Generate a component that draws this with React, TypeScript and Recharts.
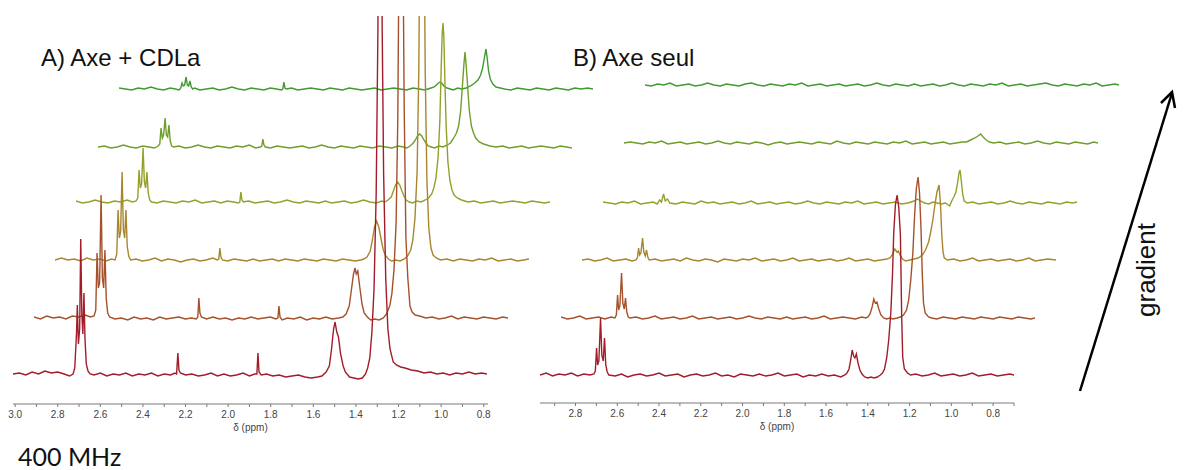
import React from 'react';
import { LineChart, Line, XAxis, YAxis } from 'recharts';

type Pt = [number, number]; // [δ ppm, intensity]

// ---- A) Axe + CDLa : one spectrum per gradient step, bottom (weak) to top (strong)
const axeCdla1: Pt[] = [
  [3.01, 0], [2.98, 1], [2.95, -1], [2.92, 2], [2.89, 0], [2.86, 3], [2.83, 1], [2.8, 2], [2.77, 0], [2.745, -2], [2.728, 0],
  [2.72, 6], [2.712, 40], [2.708, 69], [2.703, 30], [2.697, 45], [2.692, 135], [2.687, 60], [2.682, 40], [2.677, 81], [2.672, 35], [2.666, 10], [2.658, 3], [2.648, 0],
  [2.63, -1], [2.6, 1], [2.57, -2], [2.54, 0], [2.51, -1], [2.48, 1], [2.45, -2], [2.42, 0], [2.39, -1], [2.36, 1], [2.33, -2], [2.3, 0], [2.27, -1], [2.25, 1], [2.242, 0], [2.236, 21], [2.231, 4], [2.224, 1],
  [2.2, -1], [2.17, 0], [2.14, -2], [2.11, -1], [2.08, 1], [2.05, -2], [2.02, 0], [1.99, -2], [1.96, -1], [1.93, 1], [1.9, -2], [1.875, 0], [1.865, 0], [1.86, 21], [1.855, 2], [1.845, -1],
  [1.82, 0], [1.79, -2], [1.76, -1], [1.73, -3], [1.7, -2], [1.67, -1], [1.64, -3], [1.61, -4], [1.58, -3], [1.56, -2],
  [1.54, 2], [1.525, 8], [1.515, 24], [1.505, 45], [1.498, 52], [1.49, 42], [1.482, 37], [1.472, 20], [1.46, 8], [1.45, 2], [1.43, -3], [1.41, -4], [1.39, -5], [1.37, -4], [1.355, 0], [1.345, 6], [1.335, 16],
  [1.325, 42], [1.315, 85], [1.305, 180], [1.297, 340], [1.292, 520], [1.287, 680], [1.282, 530], [1.277, 350], [1.27, 200], [1.26, 95], [1.25, 45], [1.24, 25], [1.225, 12], [1.21, 9], [1.19, 7], [1.17, 6],
  [1.14, 4], [1.11, 3], [1.08, 1], [1.05, 2], [1.02, 0], [0.99, 1], [0.96, -1], [0.93, 1], [0.9, 0], [0.87, 2], [0.84, 0], [0.81, 1], [0.785, 0],
];
const axeCdla2: Pt[] = [
  [3.01, 1], [2.98, -1], [2.95, 2], [2.92, 0], [2.89, 1], [2.86, -1], [2.83, 2], [2.8, 1], [2.77, 3], [2.745, 1], [2.728, 2],
  [2.72, 8], [2.714, 65], [2.708, 30], [2.702, 35], [2.695, 123], [2.689, 40], [2.683, 30], [2.677, 68], [2.671, 20], [2.664, 5], [2.655, 1],
  [2.63, -1], [2.6, 0], [2.57, -2], [2.54, 1], [2.51, -1], [2.48, 0], [2.45, -2], [2.42, 1], [2.39, -1], [2.36, 0], [2.33, 1], [2.3, -1], [2.27, 0], [2.248, -1], [2.241, 1], [2.236, 20], [2.231, 5], [2.224, 1],
  [2.2, -1], [2.17, 1], [2.14, -1], [2.11, 0], [2.08, -2], [2.05, 0], [2.02, -1], [1.99, 1], [1.96, -1], [1.93, 0], [1.9, 1], [1.875, -1], [1.865, 0], [1.86, 12], [1.855, 1], [1.845, -2],
  [1.82, 0], [1.79, -1], [1.76, 1], [1.73, -2], [1.7, 0], [1.67, -1], [1.64, 1], [1.61, -1], [1.58, 0], [1.56, 1],
  [1.545, 4], [1.53, 12], [1.52, 28], [1.51, 44], [1.503, 50], [1.497, 44], [1.49, 47], [1.48, 30], [1.47, 14], [1.46, 5], [1.445, 1], [1.43, -2], [1.41, -1], [1.39, -2], [1.37, 0], [1.355, 4], [1.34, 12], [1.33, 24],
  [1.32, 48], [1.31, 95], [1.302, 200], [1.296, 380], [1.291, 560], [1.287, 700], [1.283, 560], [1.278, 380], [1.272, 210], [1.264, 80], [1.255, 40], [1.245, 12], [1.235, 6], [1.22, 3], [1.2, 2], [1.17, 0],
  [1.14, 1], [1.11, -1], [1.08, 0], [1.05, 2], [1.02, -1], [0.99, 1], [0.96, 0], [0.93, -1], [0.9, 1], [0.87, 0], [0.84, -1], [0.81, 1], [0.785, 0],
];
const axeCdla3: Pt[] = [
  [3.01, 0], [2.98, 2], [2.95, 0], [2.92, 1], [2.89, -1], [2.86, 2], [2.83, 0], [2.8, 1], [2.77, -1], [2.745, 1], [2.728, 0],
  [2.72, 6], [2.714, 50], [2.708, 22], [2.702, 28], [2.695, 88], [2.689, 30], [2.683, 22], [2.677, 50], [2.671, 14], [2.664, 4], [2.655, 0],
  [2.63, 1], [2.6, -1], [2.57, 0], [2.54, 2], [2.51, -1], [2.48, 1], [2.45, 0], [2.42, -2], [2.39, 0], [2.36, 1], [2.33, -1], [2.3, 0], [2.27, 2], [2.248, 0], [2.241, 1], [2.236, 12], [2.231, 3], [2.224, 0],
  [2.2, -1], [2.17, 1], [2.14, 0], [2.11, -1], [2.08, 1], [2.05, -1], [2.02, 0], [1.99, 1], [1.96, -1], [1.93, 1], [1.9, 0], [1.87, -1], [1.84, 1], [1.81, 0], [1.78, -1], [1.75, 1], [1.72, 0], [1.69, -1], [1.66, 1], [1.63, 0], [1.6, -1], [1.575, 0], [1.56, 1],
  [1.545, 3], [1.53, 9], [1.52, 20], [1.51, 33], [1.5, 39], [1.49, 33], [1.48, 22], [1.47, 11], [1.46, 5], [1.445, 1], [1.43, -1], [1.41, 0], [1.39, -1], [1.37, 1], [1.355, 4], [1.34, 10], [1.33, 20],
  [1.32, 42], [1.31, 88], [1.302, 190], [1.296, 360], [1.291, 540], [1.287, 680], [1.283, 540], [1.278, 360], [1.272, 190], [1.264, 80], [1.255, 32], [1.245, 12], [1.235, 5], [1.22, 2], [1.2, 0], [1.17, 1],
  [1.14, -1], [1.11, 1], [1.08, 0], [1.05, -1], [1.02, 1], [0.99, 0], [0.96, 2], [0.93, -1], [0.9, 0], [0.87, 1], [0.84, -1], [0.81, 0], [0.785, 1],
];
const axeCdla4: Pt[] = [
  [3.01, 1], [2.98, -1], [2.95, 0], [2.92, 2], [2.89, 0], [2.86, -1], [2.83, 1], [2.8, 0], [2.77, 2], [2.745, 0], [2.728, 1],
  [2.72, 4], [2.714, 32], [2.708, 14], [2.702, 18], [2.695, 54], [2.689, 20], [2.683, 14], [2.677, 30], [2.671, 9], [2.664, 2], [2.655, 0],
  [2.63, -1], [2.6, 1], [2.57, 0], [2.54, -1], [2.51, 1], [2.48, 0], [2.45, 2], [2.42, -1], [2.39, 0], [2.36, 1], [2.33, -1], [2.3, 1], [2.27, 0], [2.248, -1], [2.241, 0], [2.236, 10], [2.231, 2], [2.224, 0],
  [2.2, 1], [2.17, -1], [2.14, 0], [2.11, 1], [2.08, -1], [2.05, 0], [2.02, 2], [1.99, 0], [1.96, -1], [1.93, 1], [1.9, 0], [1.87, -1], [1.84, 1], [1.81, -1], [1.78, 0], [1.75, 1], [1.72, -1], [1.69, 0], [1.66, 2], [1.63, 0], [1.6, -1], [1.575, 1], [1.56, 0],
  [1.545, 2], [1.53, 5], [1.52, 11], [1.51, 17], [1.5, 20], [1.49, 17], [1.48, 11], [1.47, 6], [1.46, 2], [1.445, 0], [1.43, -1], [1.41, 1], [1.39, 0], [1.37, 2], [1.355, 4], [1.34, 8], [1.33, 14],
  [1.32, 24], [1.31, 45], [1.302, 80], [1.296, 130], [1.291, 168], [1.287, 179], [1.283, 165], [1.278, 120], [1.272, 75], [1.264, 40], [1.255, 22], [1.245, 12], [1.235, 7], [1.22, 4], [1.2, 2], [1.17, 0],
  [1.14, 1], [1.11, -1], [1.08, 0], [1.05, 1], [1.02, -1], [0.99, 0], [0.96, 1], [0.93, 0], [0.9, -1], [0.87, 1], [0.84, 0], [0.81, -1], [0.785, 0],
];
const axeCdla5: Pt[] = [
  [3.01, 0], [2.98, 1], [2.95, -1], [2.92, 0], [2.89, 2], [2.86, 0], [2.83, -1], [2.8, 1], [2.77, 0], [2.745, -1], [2.728, 1],
  [2.72, 3], [2.714, 19], [2.708, 9], [2.702, 12], [2.695, 29], [2.689, 12], [2.683, 10], [2.677, 22], [2.671, 6], [2.664, 1], [2.655, 0],
  [2.63, 1], [2.6, -1], [2.57, 0], [2.54, 2], [2.51, 0], [2.48, -1], [2.45, 1], [2.42, 0], [2.39, -1], [2.36, 1], [2.33, 0], [2.3, 2], [2.27, -1], [2.248, 0], [2.241, 1], [2.236, 8], [2.231, 2], [2.224, 0],
  [2.2, -1], [2.17, 1], [2.14, 0], [2.11, -1], [2.08, 0], [2.05, 1], [2.02, -1], [1.99, 0], [1.96, 2], [1.93, 0], [1.9, -1], [1.87, 1], [1.84, 0], [1.81, -1], [1.78, 1], [1.75, 0], [1.72, -1], [1.69, 1], [1.66, 0], [1.63, -1], [1.6, 1], [1.575, 0], [1.56, -1],
  [1.545, 1], [1.53, 4], [1.52, 7], [1.51, 11], [1.5, 13], [1.49, 11], [1.48, 7], [1.47, 4], [1.46, 1], [1.445, 0], [1.43, -1], [1.41, 1], [1.39, 0], [1.37, 2], [1.355, 4],
  [1.343, 8], [1.327, 14], [1.317, 21], [1.307, 37], [1.297, 68], [1.292, 83], [1.287, 95], [1.282, 83], [1.277, 68], [1.267, 37], [1.257, 21], [1.247, 14], [1.237, 9], [1.22, 5], [1.2, 3], [1.17, 1],
  [1.14, 0], [1.11, 1], [1.08, -1], [1.05, 0], [1.02, 1], [0.99, -1], [0.96, 0], [0.93, 1], [0.9, 0], [0.87, -1], [0.84, 1], [0.81, 0], [0.785, -1],
];
const axeCdla6: Pt[] = [
  [3.01, 1], [2.98, 0], [2.95, -1], [2.92, 1], [2.89, 0], [2.86, 2], [2.83, 0], [2.8, -1], [2.77, 1], [2.745, 0], [2.728, -1],
  [2.72, 1], [2.714, 6], [2.708, 3], [2.702, 4], [2.695, 12], [2.689, 4], [2.683, 3], [2.677, 8], [2.671, 2], [2.664, 0], [2.655, 1],
  [2.63, -1], [2.6, 0], [2.57, 1], [2.54, -1], [2.51, 0], [2.48, 2], [2.45, 0], [2.42, -1], [2.39, 1], [2.36, 0], [2.33, -1], [2.3, 1], [2.27, 0], [2.248, -1], [2.241, 0], [2.236, 7], [2.231, 1], [2.224, 0],
  [2.2, 1], [2.17, -1], [2.14, 0], [2.11, 1], [2.08, 0], [2.05, -1], [2.02, 1], [1.99, 0], [1.96, -1], [1.93, 1], [1.9, 0], [1.87, -1], [1.84, 0], [1.81, 1], [1.78, -1], [1.75, 0], [1.72, 1], [1.69, 0], [1.66, -1], [1.63, 1], [1.6, 0], [1.575, -1], [1.56, 0],
  [1.545, 1], [1.53, 2], [1.52, 4], [1.51, 6], [1.503, 7], [1.495, 6], [1.485, 3], [1.47, 1], [1.455, 0], [1.44, -1], [1.42, 1], [1.4, 0], [1.38, 1], [1.36, 3],
  [1.34, 6], [1.325, 9], [1.312, 14], [1.302, 22], [1.294, 32], [1.287, 40], [1.281, 30], [1.275, 18], [1.267, 10], [1.255, 5], [1.24, 2], [1.22, 1], [1.2, 0], [1.17, -1],
  [1.14, 1], [1.11, 0], [1.08, -1], [1.05, 1], [1.02, 0], [0.99, -1], [0.96, 1], [0.93, 0], [0.9, -1], [0.87, 1], [0.84, 0], [0.81, 1], [0.785, 0],
];

// ---- B) Axe seul
const axeSeul1: Pt[] = [
  [2.97, 0], [2.94, 2], [2.91, -1], [2.88, 1], [2.85, 0], [2.82, 2], [2.79, -1], [2.76, 1], [2.73, 0], [2.712, 1],
  [2.705, 4], [2.699, 27], [2.694, 10], [2.688, 14], [2.68, 57], [2.674, 20], [2.667, 14], [2.661, 37], [2.655, 10], [2.648, 3], [2.64, 0],
  [2.61, -1], [2.58, 1], [2.55, -2], [2.52, 0], [2.49, 1], [2.46, -1], [2.43, 0], [2.4, 2], [2.37, -1], [2.34, 0], [2.31, 1], [2.28, -2], [2.25, 0], [2.22, 1], [2.19, -1], [2.16, 0], [2.13, 2], [2.1, -1],
  [2.07, 0], [2.04, -2], [2.01, 1], [1.98, 0], [1.95, -1], [1.92, 1], [1.89, -1], [1.86, 0], [1.83, 2], [1.8, -1], [1.77, 0], [1.74, 1], [1.71, -2], [1.68, 0], [1.65, -1], [1.62, 1], [1.59, -1], [1.56, 0], [1.53, -2], [1.51, 0],
  [1.5, 2], [1.49, 6], [1.482, 15], [1.475, 25], [1.468, 19], [1.462, 17], [1.455, 21], [1.447, 12], [1.438, 5], [1.428, 1], [1.415, -2], [1.4, -3], [1.385, -2], [1.37, -3], [1.355, -2], [1.34, 0],
  [1.33, 2], [1.32, 6], [1.309, 18], [1.3, 35], [1.29, 62], [1.282, 100], [1.276, 142], [1.268, 170], [1.26, 180], [1.252, 168], [1.244, 140], [1.238, 60], [1.233, 18], [1.225, 6], [1.21, 2], [1.195, 0],
  [1.17, 1], [1.14, -1], [1.11, 0], [1.08, 2], [1.05, -1], [1.02, 0], [0.99, 1], [0.96, -1], [0.93, 0], [0.9, 2], [0.87, -1], [0.84, 0], [0.81, 1], [0.78, -1], [0.75, 0], [0.72, 1], [0.7, 0],
];
const axeSeul2: Pt[] = [
  [2.97, 1], [2.94, -1], [2.91, 0], [2.88, 2], [2.85, -1], [2.82, 0], [2.79, 1], [2.76, -1], [2.73, 1], [2.712, 0],
  [2.705, 3], [2.699, 23], [2.694, 8], [2.688, 12], [2.68, 45], [2.674, 15], [2.667, 9], [2.661, 20], [2.655, 6], [2.648, 1], [2.64, 0],
  [2.61, 1], [2.58, -1], [2.55, 0], [2.52, 2], [2.49, -1], [2.46, 0], [2.43, 1], [2.4, -1], [2.37, 0], [2.34, 2], [2.31, -1], [2.28, 0], [2.25, 1], [2.22, -1], [2.19, 0], [2.16, 1], [2.13, -1], [2.1, 0],
  [2.07, 2], [2.04, 0], [2.01, -1], [1.98, 1], [1.95, 0], [1.92, -1], [1.89, 1], [1.86, -1], [1.83, 0], [1.8, 1], [1.77, -1], [1.74, 0], [1.71, 2], [1.68, -1], [1.65, 0], [1.62, 1], [1.59, 0], [1.56, -1], [1.53, 1], [1.51, 0],
  [1.5, 1], [1.49, 4], [1.48, 11], [1.472, 19], [1.465, 15], [1.457, 16], [1.448, 9], [1.438, 3], [1.425, 0], [1.41, -1], [1.395, 0], [1.38, -1], [1.36, 0], [1.345, 1],
  [1.33, 3], [1.315, 8], [1.305, 18], [1.295, 38], [1.285, 65], [1.276, 105], [1.268, 130], [1.26, 141], [1.253, 125], [1.246, 90], [1.24, 45], [1.234, 15], [1.226, 5], [1.21, 1], [1.195, 0],
  [1.17, -1], [1.14, 1], [1.11, 0], [1.08, -1], [1.05, 1], [1.02, 0], [0.99, -1], [0.96, 1], [0.93, 0], [0.9, -1], [0.87, 1], [0.84, 0], [0.81, -1], [0.78, 1], [0.75, 0], [0.72, -1], [0.7, 0],
];
const axeSeul3: Pt[] = [
  [2.97, 0], [2.94, 1], [2.91, -1], [2.88, 0], [2.85, 2], [2.82, -1], [2.79, 0], [2.76, 1], [2.73, -1], [2.712, 0],
  [2.705, 2], [2.699, 12], [2.694, 5], [2.688, 7], [2.68, 22], [2.674, 8], [2.667, 4], [2.661, 10], [2.655, 3], [2.648, 0],
  [2.62, 1], [2.59, -1], [2.56, 0], [2.53, 1], [2.5, -1], [2.47, 2], [2.44, 0], [2.41, -1], [2.38, 1], [2.35, 0], [2.32, -2], [2.29, 1], [2.26, 0], [2.23, -1], [2.2, 1], [2.17, 0], [2.14, 2], [2.11, -1],
  [2.08, 0], [2.05, 1], [2.02, -1], [1.99, 0], [1.96, 2], [1.93, -1], [1.9, 0], [1.87, 1], [1.84, -1], [1.81, 0], [1.78, 1], [1.75, -1], [1.72, 0], [1.69, 2], [1.66, -1], [1.63, 0], [1.6, 1], [1.57, -1], [1.54, 0], [1.51, 1],
  [1.495, 2], [1.482, 6], [1.472, 11], [1.462, 8], [1.455, 9], [1.445, 4], [1.435, 1], [1.42, -1], [1.4, 0], [1.38, 1], [1.36, 2],
  [1.34, 5], [1.325, 10], [1.31, 18], [1.3, 28], [1.29, 40], [1.28, 55], [1.27, 68], [1.26, 75], [1.253, 55], [1.247, 25], [1.241, 8], [1.235, 2], [1.22, 0],
  [1.19, 1], [1.16, -1], [1.13, 0], [1.1, 2], [1.07, -1], [1.04, 0], [1.01, 1], [0.98, -1], [0.95, 0], [0.92, 1], [0.89, -1], [0.86, 0], [0.83, 2], [0.8, -1], [0.77, 0], [0.74, 1], [0.7, 0],
];
const axeSeul4: Pt[] = [
  [2.97, 1], [2.94, 0], [2.91, -1], [2.88, 1], [2.85, 0], [2.82, 2], [2.79, -1], [2.76, 0], [2.73, 1], [2.71, -1],
  [2.699, 3], [2.69, 1], [2.68, 9], [2.672, 2], [2.661, 4], [2.65, 0],
  [2.62, -1], [2.59, 1], [2.56, 0], [2.53, -1], [2.5, 2], [2.47, 0], [2.44, 1], [2.41, -1], [2.38, 0], [2.35, 1], [2.32, -1], [2.29, 0], [2.26, 2], [2.23, -1], [2.2, 0], [2.17, 1], [2.14, -1], [2.11, 0],
  [2.08, 1], [2.05, -1], [2.02, 0], [1.99, 2], [1.96, 0], [1.93, -1], [1.9, 1], [1.87, 0], [1.84, -1], [1.81, 1], [1.78, 0], [1.75, 2], [1.72, -1], [1.69, 0], [1.66, 1], [1.63, -1], [1.6, 0], [1.57, 1], [1.54, -1], [1.51, 0],
  [1.48, 2], [1.465, 4], [1.45, 2], [1.43, 0], [1.41, -1], [1.39, 1], [1.37, 0], [1.35, -1], [1.33, 0], [1.31, -3],
  [1.3, 2], [1.29, 6], [1.28, 11], [1.272, 20], [1.265, 30], [1.26, 33], [1.254, 22], [1.247, 8], [1.24, 2], [1.225, 0],
  [1.2, 1], [1.17, -1], [1.14, 0], [1.11, 1], [1.08, -1], [1.05, 0], [1.02, 2], [0.99, 0], [0.96, -1], [0.93, 1], [0.9, 0], [0.87, -1], [0.84, 1], [0.81, 0], [0.78, -1], [0.75, 1], [0.72, 0], [0.7, 1],
];
const axeSeul5: Pt[] = [
  [2.97, 0], [2.94, 1], [2.91, 0], [2.88, -1], [2.85, 1], [2.82, 0], [2.79, 2], [2.76, -1], [2.73, 0], [2.7, 1], [2.67, -1], [2.64, 0],
  [2.61, 1], [2.58, -1], [2.55, 0], [2.52, 2], [2.49, 0], [2.46, -1], [2.43, 1], [2.4, 0], [2.37, -1], [2.34, 1], [2.31, 0], [2.28, -2], [2.25, 0], [2.22, 1], [2.19, -1], [2.16, 0], [2.13, 1], [2.1, 0],
  [2.07, -1], [2.04, 1], [2.01, 0], [1.98, -1], [1.95, 2], [1.92, 0], [1.89, -1], [1.86, 1], [1.83, 0], [1.8, -1], [1.77, 1], [1.74, 0], [1.71, -1], [1.68, 1], [1.65, 0], [1.62, 2], [1.59, -1], [1.56, 0], [1.53, 1],
  [1.5, -1], [1.47, 0], [1.44, 1], [1.41, -1], [1.38, 0], [1.35, 1],
  [1.33, 1], [1.31, 3], [1.29, 5], [1.275, 7], [1.262, 9], [1.25, 6], [1.235, 3], [1.22, 1],
  [1.2, 0], [1.17, 1], [1.14, -1], [1.11, 0], [1.08, 1], [1.05, -1], [1.02, 0], [0.99, 2], [0.96, 0], [0.93, -1], [0.9, 1], [0.87, 0], [0.84, -1], [0.81, 1], [0.78, 0], [0.75, -1], [0.72, 1], [0.7, 0],
];
const axeSeul6: Pt[] = [
  [2.97, 0], [2.94, -1], [2.91, 1], [2.88, 0], [2.85, 2], [2.82, -1], [2.79, 0], [2.76, 1], [2.73, -1], [2.7, 0], [2.67, 2], [2.64, 0],
  [2.61, -1], [2.58, 1], [2.55, 0], [2.52, -1], [2.49, 1], [2.46, 2], [2.43, 0], [2.4, -1], [2.37, 1], [2.34, 0], [2.31, -1], [2.28, 1], [2.25, 0], [2.22, 2], [2.19, -1], [2.16, 0], [2.13, 1], [2.1, -1],
  [2.07, 0], [2.04, 1], [2.01, -1], [1.98, 0], [1.95, 1], [1.92, -1], [1.89, 0], [1.86, 2], [1.83, 0], [1.8, -1], [1.77, 1], [1.74, 0], [1.71, -1], [1.68, 1], [1.65, -1], [1.62, 0], [1.59, 1], [1.56, -1], [1.53, 0],
  [1.5, 2], [1.47, 0], [1.44, -1], [1.41, 1], [1.38, 0], [1.35, -1], [1.32, 1], [1.29, 0], [1.26, 2], [1.23, -1], [1.2, 0],
  [1.17, 1], [1.14, -1], [1.11, 0], [1.08, 1], [1.05, 2], [1.02, 0], [0.99, -1], [0.96, 1], [0.93, 0], [0.9, -1], [0.87, 1], [0.84, 0], [0.81, 2], [0.78, -1], [0.75, 0], [0.72, 1], [0.7, 0],
];

const spectraA = [axeCdla1, axeCdla2, axeCdla3, axeCdla4, axeCdla5, axeCdla6];
const spectraB = [axeSeul1, axeSeul2, axeSeul3, axeSeul4, axeSeul5, axeSeul6];

// axis ticks (ppm) and which of them carry a label
const ticksA = [3.0, 2.9, 2.8, 2.7, 2.6, 2.5, 2.4, 2.3, 2.2, 2.1, 2.0, 1.9, 1.8, 1.7, 1.6, 1.5, 1.4, 1.3, 1.2, 1.1, 1.0, 0.9, 0.8];
const ticksB = [2.9, 2.8, 2.7, 2.6, 2.5, 2.4, 2.3, 2.2, 2.1, 2.0, 1.9, 1.8, 1.7, 1.6, 1.5, 1.4, 1.3, 1.2, 1.1, 1.0, 0.9, 0.8, 0.7];
const tickLabels = ['3.0', '2.8', '2.6', '2.4', '2.2', '2.0', '1.8', '1.6', '1.4', '1.2', '1.0', '0.8'];

// bottom (dark red) -> top (green)
const traceColors = ['#a11d2a', '#a5512c', '#a8862f', '#94a02a', '#6f9e2c', '#3f9b30'];

// ---- layout
const CLIP_TOP = 16;
const AXIS_H = 28;
const SIDE = 14;
const font = '"Liberation Sans", Arial, Helvetica, sans-serif';

const panelA = {
  domain: [0.78, 3.01] as [number, number],
  plotWidth: 475,
  axisY: 404,
  lefts: [13, 34, 55, 76, 98, 119],
  baselines: [374, 318, 260, 202, 147, 89],
  ticks: ticksA,
};
const panelB = {
  domain: [0.7, 2.97] as [number, number],
  plotWidth: 474,
  axisY: 403,
  lefts: [540, 561, 582, 603, 624, 645],
  baselines: [375, 318, 260, 203, 143, 85],
  ticks: ticksB,
};

interface TraceProps {
  points: Pt[];
  color: string;
  left: number;
  baseline: number;
  domain: [number, number];
  plotWidth: number;
  axisY?: number;
  ticks?: number[];
}

const Trace = ({ points, color, left, baseline, domain, plotWidth, axisY, ticks }: TraceProps) => {
  const rows = points.map(([ppm, v]) => ({ ppm, v }));
  const showAxis = axisY !== undefined;
  const plotBottom = showAxis ? (axisY as number) : baseline + 12;
  const extra = showAxis ? 6 : 0; // room for the descenders of "δ (ppm)"
  const height = plotBottom - CLIP_TOP + (showAxis ? AXIS_H : 0) + extra;

  return (
    <div style={{ position: 'absolute', left: left - SIDE, top: CLIP_TOP }}>
      <LineChart
        width={plotWidth + 2 * SIDE}
        height={height}
        data={rows}
        margin={{ top: 0, right: SIDE, bottom: extra, left: SIDE }}
      >
        <XAxis
          type="number"
          dataKey="ppm"
          domain={domain}
          reversed
          allowDataOverflow
          hide={!showAxis}
          ticks={ticks}
          interval={0}
          height={AXIS_H}
          tickSize={3}
          tickMargin={4}
          stroke="#7a7a7a"
          tick={{ fontSize: 10, fill: '#444', fontFamily: font }}
          tickFormatter={(v: number) => (tickLabels.includes(v.toFixed(1)) ? v.toFixed(1) : '')}
          label={{ value: 'δ (ppm)', position: 'insideBottom', offset: 1, fontSize: 10, fill: '#444', fontFamily: font }}
        />
        <YAxis hide type="number" domain={[baseline - plotBottom, baseline - CLIP_TOP]} allowDataOverflow />
        <Line
          dataKey="v"
          type="linear"
          dot={false}
          stroke={color}
          strokeWidth={1.4}
          isAnimationActive={false}
        />
      </LineChart>
    </div>
  );
};

const Panel = ({ spectra, cfg }: { spectra: Pt[][]; cfg: typeof panelA }) => (
  <>
    {spectra
      .map((pts, i) => (
        <Trace
          key={i}
          points={pts}
          color={traceColors[i]}
          left={cfg.lefts[i]}
          baseline={cfg.baselines[i]}
          domain={cfg.domain}
          plotWidth={cfg.plotWidth}
          axisY={i === 0 ? cfg.axisY : undefined}
          ticks={i === 0 ? cfg.ticks : undefined}
        />
      ))
      .reverse()}
  </>
);

export default function App() {
  return (
    <div
      style={{
        position: 'absolute',
        left: 0,
        top: 0,
        width: 1185,
        height: 470,
        background: '#fff',
        overflow: 'hidden',
      }}
    >
      <Panel spectra={spectraA} cfg={panelA} />
      <Panel spectra={spectraB} cfg={panelB} />
      <svg width={1185} height={470} style={{ position: 'absolute', left: 0, top: 0, pointerEvents: 'none' }}>
        <text x={41} y={66} fontFamily={font} fontSize={24} fill="#111">A) Axe + CDLa</text>
        <text x={573} y={66} fontFamily={font} fontSize={24} fill="#111">B) Axe seul</text>
        <text x={1155} y={270} fontFamily={font} fontSize={26} fill="#111" textAnchor="middle" transform="rotate(-90 1155 270)">
          gradient
        </text>
        <line x1={1080} y1={391} x2={1172} y2={93} stroke="#000" strokeWidth={2.5} />
        <polyline points="1161,103 1172,92 1175,108" fill="none" stroke="#000" strokeWidth={2.5} />
        <text x={18} y={466} fontFamily="Lato, 'Open Sans', sans-serif" fontSize={25} fill="#111">400 MHz</text>
      </svg>
    </div>
  );
}
